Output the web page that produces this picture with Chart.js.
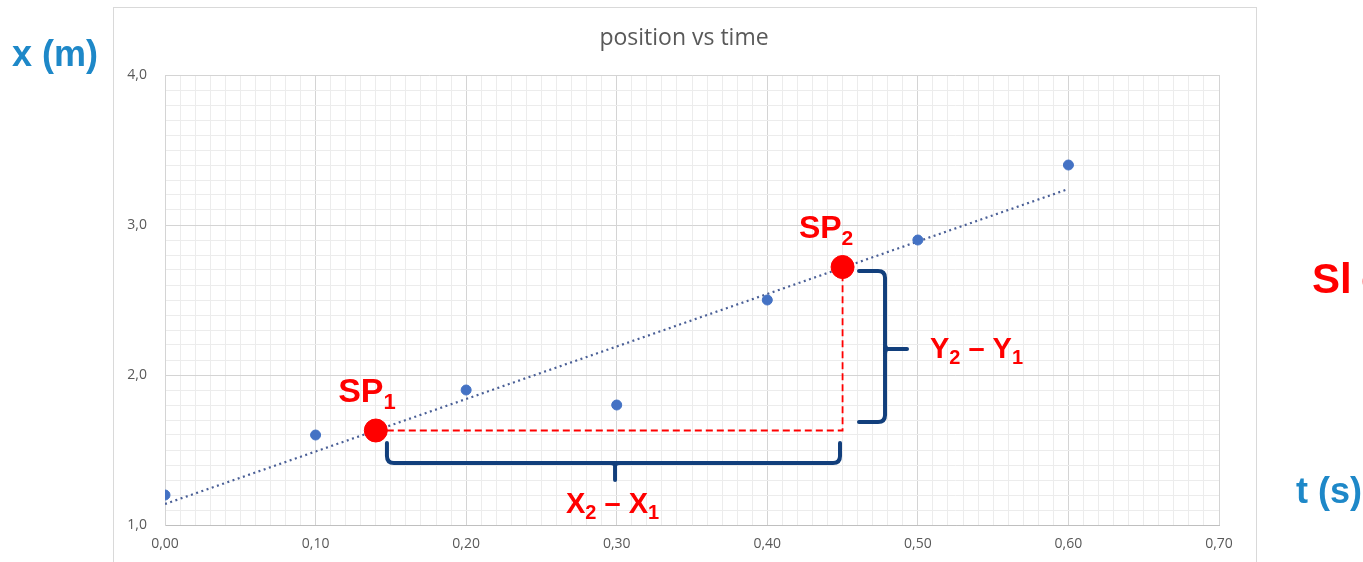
<!DOCTYPE html>
<html lang="en">
<head>
  <meta charset="UTF-8">
  <title>position vs time</title>
  <script src="https://cdn.jsdelivr.net/npm/chart.js"></script>
  <style>
    html, body {
      margin: 0;
      width: 1363px;
      height: 562px;
      overflow: hidden;
      background: #ffffff;
    }
    #wrap {
      position: relative;
      width: 1363px;
      height: 562px;
    }
  </style>
</head>
<body>
  <div id="wrap"><canvas id="posChart"></canvas></div>

  <script>
    // measured points (t in s, x in m)
    const times = [0.0, 0.1, 0.2, 0.3, 0.4, 0.5, 0.6];
    const positions = [1.2, 1.6, 1.9, 1.8, 2.5, 2.9, 3.4];

    // dotted trend line ends
    const trendT = [0.0, 0.6];
    const trendX = [1.14, 3.24];

    // the two slope points
    const spT = [0.14, 0.45];
    const spX = [1.63, 2.72];

    const RED = '#ff0000';
    const NAVY = '#123f7c';
    const BLUE_TXT = '#1e88c8';

    const fmt = v => v.toFixed(1).replace('.', ',');
    const fmt2 = v => v.toFixed(2).replace('.', ',');

    // frame, title, braces and the big red/blue labels
    const decor = {
      id: 'decor',
      beforeDraw(chart) {
        const c = chart.ctx;
        c.save();
        c.strokeStyle = '#d9d9d9';
        c.lineWidth = 1;
        c.strokeRect(113.5, 7.5, 1143, 600);
        c.restore();
      },
      afterDraw(chart) {
        const c = chart.ctx;
        const xs = chart.scales.x, ys = chart.scales.y;
        const px = v => xs.getPixelForValue(v);
        const py = v => ys.getPixelForValue(v);
        c.save();

        // title
        c.fillStyle = '#595959';
        c.font = '23px "Open Sans", sans-serif';
        c.textAlign = 'center';
        c.textBaseline = 'middle';
        c.fillText('position vs time', 684, 38);

        // horizontal brace under the run
        c.strokeStyle = NAVY;
        c.lineWidth = 4;
        c.lineJoin = 'round';
        c.lineCap = 'round';
        let x0 = px(0.1474), x1 = px(0.4483), xc = px(0.2989);
        let yT = py(1.547), yM = py(1.413), yTip = py(1.30), r = 7;
        c.beginPath();
        c.moveTo(x0, yT);
        c.lineTo(x0, yM - r);
        c.quadraticCurveTo(x0, yM, x0 + r, yM);
        c.lineTo(x1 - r, yM);
        c.quadraticCurveTo(x1, yM, x1, yM - r);
        c.lineTo(x1, yT);
        c.moveTo(xc, yTip);
        c.lineTo(xc, yM + 3);
        c.quadraticCurveTo(xc, yM, xc - 5, yM);
        c.moveTo(xc, yM + 3);
        c.quadraticCurveTo(xc, yM, xc + 5, yM);
        c.stroke();

        // vertical brace beside the rise
        let bx0 = px(0.4609), bxM = px(0.4782), bxTip = px(0.4928);
        let by0 = py(2.693), by1 = py(1.687), byc = py(2.173);
        c.beginPath();
        c.moveTo(bx0, by0);
        c.lineTo(bxM - r, by0);
        c.quadraticCurveTo(bxM, by0, bxM, by0 + r);
        c.lineTo(bxM, by1 - r);
        c.quadraticCurveTo(bxM, by1, bxM - r, by1);
        c.lineTo(bx0, by1);
        c.moveTo(bxTip, byc);
        c.lineTo(bxM + 3, byc);
        c.quadraticCurveTo(bxM, byc, bxM, byc - 5);
        c.moveTo(bxM + 3, byc);
        c.quadraticCurveTo(bxM, byc, bxM, byc + 5);
        c.stroke();

        // red labels with subscripts
        c.fillStyle = RED;
        c.textAlign = 'left';
        c.textBaseline = 'alphabetic';
        const sub = (parts, x, y, big, small) => {
          let cx = x;
          parts.forEach(p => {
            c.font = 'bold ' + (p.s ? small : big) + 'px "Liberation Sans", Arial, sans-serif';
            c.fillText(p.t, cx, y + (p.s ? big * 0.22 : 0));
            cx += c.measureText(p.t).width;
          });
        };
        sub([{t: 'SP'}, {t: '1', s: true}], px(0.115), py(1.82), 34, 22);
        sub([{t: 'SP'}, {t: '2', s: true}], px(0.421), py(2.915), 32, 21);
        sub([{t: 'Y'}, {t: '2', s: true}, {t: ' \u2013 '}, {t: 'Y'}, {t: '1', s: true}], px(0.508), py(2.113), 29, 20);
        sub([{t: 'X'}, {t: '2', s: true}, {t: ' \u2013 '}, {t: 'X'}, {t: '1', s: true}], px(0.2663), py(1.08), 29, 20);

        // axis names outside the chart frame
        c.fillStyle = BLUE_TXT;
        c.font = 'bold 36px "Liberation Sans", Arial, sans-serif';
        c.fillText('x (m)', 12, 66);
        c.fillText('t (s)', 1296, 503);
        // "Slope" running off the right edge
        c.fillStyle = RED;
        c.font = 'bold 42px "Liberation Sans", Arial, sans-serif';
        c.fillText('Sl', 1312, 293);
        c.fillText('ope', 1361, 293);
        c.restore();
      }
    };

    const ctx = document.getElementById('posChart').getContext('2d');
    const chart = new Chart(ctx, {
      type: 'scatter',
      data: {
        datasets: [
          {
            label: 'slope construction',
            type: 'line',
            data: [
              { x: spT[0], y: spX[0] },
              { x: spT[1], y: spX[0] },
              { x: spT[1], y: spX[1] }
            ],
            borderColor: RED,
            borderWidth: 1.8,
            borderDash: [7, 4],
            pointRadius: 0,
            fill: false,
            order: 3
          },
          {
            label: 'trend',
            type: 'line',
            data: trendT.map((t, i) => ({ x: t, y: trendX[i] })),
            borderColor: '#4a5f96',
            borderWidth: 2.2,
            borderDash: [2, 3.5],
            pointRadius: 0,
            fill: false,
            order: 2
          },
          {
            label: 'position',
            data: times.map((t, i) => ({ x: t, y: positions[i] })),
            backgroundColor: '#4472c4',
            borderColor: '#4472c4',
            pointRadius: 5,
            order: 1
          },
          {
            label: 'SP',
            data: spT.map((t, i) => ({ x: t, y: spX[i] })),
            backgroundColor: RED,
            borderColor: RED,
            pointRadius: 11.5,
            order: 0
          }
        ]
      },
      options: {
        animation: false,
        responsive: true,
        maintainAspectRatio: false,
        layout: { padding: { left: 100, right: 144, top: 75, bottom: 0 } },
        plugins: {
          legend: { display: false },
          tooltip: { enabled: false },
          title: { display: false }
        },
        scales: {
          x: {
            type: 'linear',
            min: 0,
            max: 0.7,
            afterFit: s => { s.height = 37; },
            afterBuildTicks: s => {
              s.ticks = [];
              for (let i = 0; i <= 70; i++) s.ticks.push({ value: i / 100 });
            },
            ticks: {
              autoSkip: false,
              maxRotation: 0,
              padding: 11,
              color: '#595959',
              font: { family: '"Open Sans", sans-serif', size: 14 },
              callback: v => (Math.round(v * 100) % 10 === 0 ? fmt2(v) : '')
            },
            grid: {
              drawTicks: false,
              color: c => (Math.round(c.tick.value * 100) % 10 === 0 ? '#d4d4d4' : '#ececec'),
              lineWidth: 1
            },
            border: { color: '#bfbfbf' }
          },
          y: {
            type: 'linear',
            min: 1,
            max: 4,
            afterFit: s => { s.width = 65; },
            afterBuildTicks: s => {
              s.ticks = [];
              for (let i = 10; i <= 40; i++) s.ticks.push({ value: i / 10 });
            },
            ticks: {
              autoSkip: false,
              padding: 18,
              color: '#595959',
              font: { family: '"Open Sans", sans-serif', size: 14 },
              callback: v => (Math.round(v * 10) % 10 === 0 ? fmt(v) : '')
            },
            grid: {
              drawTicks: false,
              color: c => (Math.round(c.tick.value * 10) % 10 === 0 ? '#d4d4d4' : '#ececec'),
              lineWidth: 1
            },
            border: { color: '#d4d4d4' }
          }
        }
      },
      plugins: [decor]
    });
  </script>
</body>
</html>
